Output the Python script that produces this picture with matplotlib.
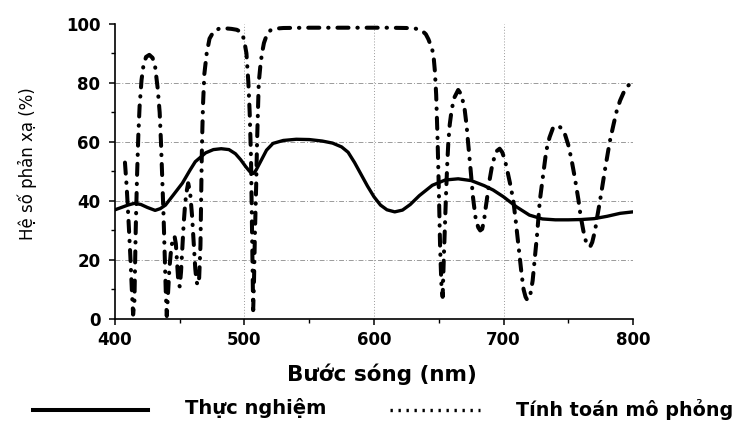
import matplotlib
matplotlib.use("Agg")
import matplotlib.pyplot as plt
from matplotlib.lines import Line2D
from matplotlib.ticker import MultipleLocator

plt.rcParams['font.family'] = ['DejaVu Sans']

# Thực nghiệm (đường liền)
wl_exp = [400, 405, 410, 415, 420, 425, 431, 435, 439, 445, 452, 458, 462, 470,
          476, 482, 488, 493, 497, 501, 504, 507, 509, 512, 517, 522, 530, 540,
          550, 560, 568, 575, 580, 585, 590, 595, 600, 605, 610, 616, 622, 628,
          635, 645, 655, 665, 675, 685, 692, 700, 710, 720, 730, 740, 750, 760,
          770, 780, 790, 800]
r_exp = [37.0, 37.8, 38.6, 39.2, 38.8, 37.8, 36.8, 37.4, 38.6, 42.0, 46.0, 50.5,
         53.3, 56.3, 57.4, 57.7, 57.4, 56.0, 54.0, 51.6, 50.0, 49.3, 50.5, 53.0,
         57.2, 59.5, 60.5, 60.9, 60.8, 60.3, 59.6, 58.3, 56.5, 53.0, 49.0, 45.0,
         41.4, 38.6, 37.0, 36.3, 36.9, 38.8, 41.8, 45.3, 47.1, 47.5, 46.9, 45.2,
         43.7, 41.4, 38.0, 35.2, 33.9, 33.6, 33.6, 33.7, 34.0, 34.8, 35.8, 36.3]

# Tính toán mô phỏng (đường chấm gạch), từng đoạn
wl_sim = [407.7, 409, 410.5, 412, 413, 414, 415, 416, 417, 418, 419, 420.5, 422,
          424, 426.5, 429, 431, 433, 434.5, 435.5, 436.5, 437.5, 438.5, 439.3, 440,
          441, 442, 443, 444, 445, 446, 447, 448, 449, 450, 451, 452, 453, 454,
          455, 456.5, 458, 459.5, 461, 462, 463, 464, 465,
          466, 466.5, 467, 467.5, 468, 469, 470.8, 473, 476, 480, 485, 490, 494,
          497, 499.5, 501.5, 503, 504, 505, 505.5, 506.2, 506.7, 507.3, 508, 509,
          509.7, 510.5, 511, 512.3, 513.5, 515, 517, 520, 524, 530,
          550, 580, 610, 625, 632, 635.5, 638, 640, 642, 644, 645.8, 647, 648,
          649, 650, 651, 652, 653,
          654, 655, 655.6, 656.5, 657.4, 658.5, 660, 662, 665, 667.5, 670, 671.5,
          672.6, 674.5, 676.5, 678.5, 680.5, 682, 683.5, 685, 686, 687, 689,
          690.8, 693, 695, 697, 699, 701, 703.3, 705.5, 707.6, 709.5, 711, 712.5,
          714, 715.5, 717, 718, 719,
          720, 721, 722.5, 724, 726, 728, 730.5, 733, 735.5, 738, 740, 742.3,
          745, 747.5, 750, 752.5, 755, 757.8, 759.5, 761.6, 763.5, 765, 766, 767,
          768.5, 770.7, 772.5, 774.5, 776.5, 778.5, 782, 785, 787.4, 790, 793,
          796, 800]
r_sim = [53, 45, 33, 20, 10, 1.5, 6, 30, 48, 62, 72, 81, 86,
         88.8, 89.5, 88.5, 85.5, 78, 70, 60, 48, 35, 20, 8, 1,
         9, 17, 22, 25.5, 27.5, 28, 25.5, 19, 12, 11, 16, 24, 32, 38,
         42.5, 46, 43, 35, 24, 17, 12.5, 11.5, 14,
         25, 40, 55, 65, 73, 83, 90, 95, 97.3, 98.3, 98.5, 98.3, 98.0,
         97.3, 95, 90, 80, 70, 55, 40, 20, 3, 12, 28, 45,
         60, 72, 80, 86, 90, 93.5, 96, 97.8, 98.4, 98.6,
         98.7, 98.7, 98.7, 98.6, 98.4, 98.0, 97.3, 96.5, 94.8, 92.5, 90, 84, 76,
         62, 45, 25, 12, 7.5,
         22, 35, 42, 52, 60, 66, 71, 75, 77.6, 76, 71, 65.5,
         60, 51, 41, 34, 31, 30, 30.5, 33.5, 37, 40, 46.5,
         51, 55, 57, 57.7, 56.5, 54, 49.5, 45, 40, 33, 27, 21,
         15, 10, 7.5, 6.7, 6.5,
         7, 9, 13, 20, 29, 40, 48.5, 57, 61.5, 64.5, 65.3, 65.5,
         64.5, 62.5, 59, 54, 48, 40.5, 35, 30, 26.5, 25, 24.5, 24.6,
         26, 30, 35, 40, 45.5, 51, 60, 66, 70.5, 74, 77,
         79, 80.4]

x_ticks = [400, 500, 600, 700, 800]
y_ticks = [0, 20, 40, 60, 80, 100]

fig = plt.figure(figsize=(7.39, 4.21), dpi=100)
ax = fig.add_axes([0.1556, 0.2423, 0.701, 0.701])

ax.plot(wl_exp, r_exp, color="black", linewidth=2.4, solid_capstyle="round",
        solid_joinstyle="round", zorder=3)
ax.plot(wl_sim, r_sim, color="black", linewidth=2.9,
        dashes=(2.75, 2.2, 0.1, 2.2), dash_capstyle="round",
        dash_joinstyle="round", zorder=4)

ax.set_xlim(400, 800)
ax.set_ylim(0, 100)
ax.set_xticks(x_ticks)
ax.set_yticks(y_ticks)
ax.xaxis.set_minor_locator(MultipleLocator(50))
ax.yaxis.set_minor_locator(MultipleLocator(10))
ax.tick_params(which="major", direction="out", length=4.5, width=1.1,
               labelsize=12)
ax.tick_params(axis="x", which="major", pad=4)
ax.tick_params(axis="y", which="major", pad=6)
ax.tick_params(which="minor", direction="out", length=3, width=1.0)
for lab in ax.get_xticklabels() + ax.get_yticklabels():
    lab.set_fontweight("bold")

for side in ["top", "right"]:
    ax.spines[side].set_visible(False)
for side in ["left", "bottom"]:
    ax.spines[side].set_linewidth(1.2)

# lưới chấm gạch, bỏ các đường ở mép
ax.grid(True, which="major", color="#9a9a9a", linewidth=0.7,
        linestyle=(0, (5, 2, 1, 2)))
xg = ax.xaxis.get_gridlines()
yg = ax.yaxis.get_gridlines()
for g in [xg[0], xg[-1], yg[0], yg[-1]]:
    g.set_visible(False)
for g in xg:
    g.set_linestyle((0, (1, 2)))

ax.set_xlabel("Bước sóng (nm)", fontsize=15.5, fontweight="bold")
ax.xaxis.set_label_coords(0.516, -0.152)
ax.set_ylabel("Hệ số phản xạ (%)", fontsize=12)
ax.yaxis.set_label_coords(-0.15, 0.525)

# chú thích
fig.add_artist(Line2D([33 / 739, 148 / 739], [1 - 410 / 421] * 2,
                      color="black", linewidth=2.9))
fig.text(185 / 739, 1 - 408 / 421, "Thực nghiệm", fontsize=14,
         fontweight="bold", va="center", ha="left")
fig.add_artist(Line2D([390 / 739, 480 / 739], [1 - 410 / 421] * 2,
                      color="black", linewidth=2.4, linestyle=(0, (0.7, 1.7))))
fig.text(516 / 739, 1 - 409 / 421, "Tính toán mô phỏng", fontsize=13.8,
         fontweight="bold", va="center", ha="left")

fig.savefig("out.png", dpi=100)
